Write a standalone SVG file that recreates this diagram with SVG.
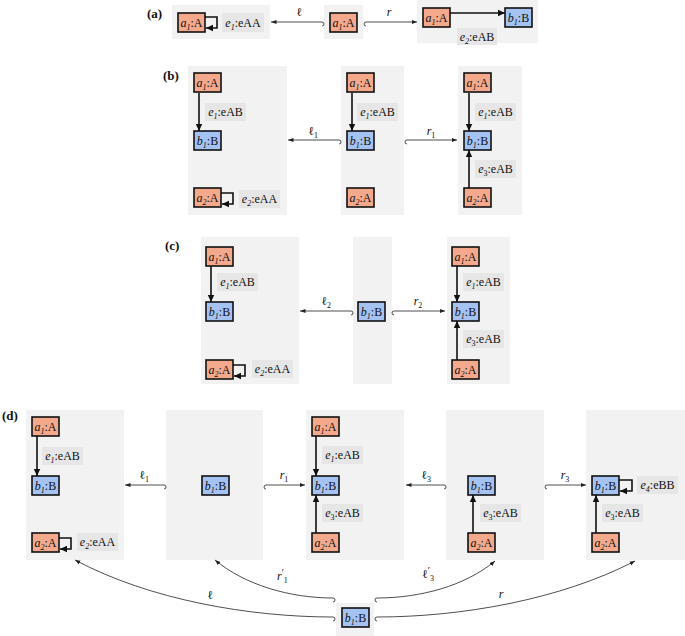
<svg xmlns="http://www.w3.org/2000/svg" width="685" height="636" viewBox="0 0 685 636" font-family="'Liberation Serif', 'Times New Roman', serif">
<defs>
<marker id="ah" markerUnits="userSpaceOnUse" markerWidth="8" markerHeight="8" viewBox="0 0 8 8" refX="7" refY="4" orient="auto"><path d="M0,0.8 L7,4 L0,7.2 Z" fill="#111"/></marker>
<marker id="mh" markerUnits="userSpaceOnUse" markerWidth="6" markerHeight="6" viewBox="0 0 6 6" refX="5.5" refY="3" orient="auto"><path d="M0,0.9 L5.5,3 L0,5.1 Z" fill="#222"/></marker>
</defs>
<style>
text{font-family:"Liberation Serif","Times New Roman",serif;font-size:12px;fill:#111}
.box{fill:#F2F2F2}
.lb{fill:#E6E6E6}
.na{fill:#F4A98C;stroke:#111;stroke-width:1.6}
.nb{fill:#A5C3F2;stroke:#111;stroke-width:1.6}
.e{fill:none;stroke:#111;stroke-width:1.6;marker-end:url(#ah)}
.m{fill:none;stroke:#222;stroke-width:0.8;marker-end:url(#mh)}
.i{font-style:italic}
.s{font-size:8px}
.p{font-size:10px}
.t{text-anchor:middle}
.h{font-weight:bold;font-size:13px}
</style>

<g id="panels">
<text class="h" x="147" y="18">(a)</text>
<text class="h" x="163" y="80">(b)</text>
<text class="h" x="165" y="250">(c)</text>
<text class="h" x="2" y="420">(d)</text>
<rect class="box" x="172" y="5" width="98" height="34"/>
<rect class="box" x="324" y="5" width="39" height="34"/>
<rect class="box" x="417" y="0" width="121" height="43"/>
<rect class="box" x="188" y="66" width="99" height="149"/>
<rect class="box" x="341" y="66" width="63" height="149"/>
<rect class="box" x="458" y="66" width="64" height="149"/>
<rect class="box" x="201" y="237" width="98" height="147"/>
<rect class="box" x="353" y="237" width="39" height="147"/>
<rect class="box" x="447" y="237" width="63" height="147"/>
<rect class="box" x="26" y="410" width="98" height="150"/>
<rect class="box" x="166" y="410" width="97" height="150"/>
<rect class="box" x="306" y="410" width="98" height="150"/>
<rect class="box" x="446" y="410" width="98" height="150"/>
<rect class="box" x="586" y="410" width="99" height="150"/>
<rect class="box" x="336" y="603" width="38" height="33"/>
</g>

<g id="edge-labels">
<rect class="lb" x="222" y="13" width="42" height="19"/><text class="t" x="243" y="26.5"><tspan class="i">e</tspan><tspan class="i s" dy="3">1</tspan><tspan dy="-3">:eAA</tspan></text>
<rect class="lb" x="457" y="28" width="40" height="17"/><text class="t" x="477" y="40.5"><tspan class="i">e</tspan><tspan class="i s" dy="3">2</tspan><tspan dy="-3">:eAB</tspan></text>

<rect class="lb" x="205" y="103" width="41" height="18"/><text class="t" x="225.5" y="116"><tspan class="i">e</tspan><tspan class="i s" dy="3">1</tspan><tspan dy="-3">:eAB</tspan></text>
<rect class="lb" x="239" y="190" width="41" height="18"/><text class="t" x="259.5" y="203"><tspan class="i">e</tspan><tspan class="i s" dy="3">2</tspan><tspan dy="-3">:eAA</tspan></text>
<rect class="lb" x="357" y="103" width="41" height="18"/><text class="t" x="377.5" y="116"><tspan class="i">e</tspan><tspan class="i s" dy="3">1</tspan><tspan dy="-3">:eAB</tspan></text>
<rect class="lb" x="475" y="103" width="41" height="18"/><text class="t" x="495.5" y="116"><tspan class="i">e</tspan><tspan class="i s" dy="3">1</tspan><tspan dy="-3">:eAB</tspan></text>
<rect class="lb" x="475" y="160" width="41" height="18"/><text class="t" x="495.5" y="173"><tspan class="i">e</tspan><tspan class="s" dy="3">3</tspan><tspan dy="-3">:eAB</tspan></text>

<rect class="lb" x="217" y="273" width="41" height="18"/><text class="t" x="237.5" y="286"><tspan class="i">e</tspan><tspan class="i s" dy="3">1</tspan><tspan dy="-3">:eAB</tspan></text>
<rect class="lb" x="252" y="360" width="41" height="18"/><text class="t" x="272.5" y="373"><tspan class="i">e</tspan><tspan class="i s" dy="3">2</tspan><tspan dy="-3">:eAA</tspan></text>
<rect class="lb" x="463" y="273" width="41" height="18"/><text class="t" x="483.5" y="286"><tspan class="i">e</tspan><tspan class="i s" dy="3">1</tspan><tspan dy="-3">:eAB</tspan></text>
<rect class="lb" x="463" y="330" width="41" height="18"/><text class="t" x="483.5" y="343"><tspan class="i">e</tspan><tspan class="s" dy="3">3</tspan><tspan dy="-3">:eAB</tspan></text>

<rect class="lb" x="42" y="447" width="41" height="18"/><text class="t" x="62.5" y="460"><tspan class="i">e</tspan><tspan class="i s" dy="3">1</tspan><tspan dy="-3">:eAB</tspan></text>
<rect class="lb" x="77" y="533" width="41" height="18"/><text class="t" x="97.5" y="546"><tspan class="i">e</tspan><tspan class="i s" dy="3">2</tspan><tspan dy="-3">:eAA</tspan></text>
<rect class="lb" x="322" y="446" width="41" height="18"/><text class="t" x="342.5" y="459"><tspan class="i">e</tspan><tspan class="i s" dy="3">1</tspan><tspan dy="-3">:eAB</tspan></text>
<rect class="lb" x="322" y="504" width="41" height="18"/><text class="t" x="342.5" y="517"><tspan class="i">e</tspan><tspan class="s" dy="3">3</tspan><tspan dy="-3">:eAB</tspan></text>
<rect class="lb" x="480" y="504" width="41" height="18"/><text class="t" x="500.5" y="517"><tspan class="i">e</tspan><tspan class="s" dy="3">3</tspan><tspan dy="-3">:eAB</tspan></text>
<rect class="lb" x="602" y="504" width="41" height="18"/><text class="t" x="622.5" y="517"><tspan class="i">e</tspan><tspan class="s" dy="3">3</tspan><tspan dy="-3">:eAB</tspan></text>
<rect class="lb" x="637" y="476" width="41" height="18"/><text class="t" x="657.5" y="489"><tspan class="i">e</tspan><tspan class="i s" dy="3">4</tspan><tspan dy="-3">:eBB</tspan></text>
</g>

<g id="connectors">
<path class="e" d="M205,17 H217 V28 H206"/>
<path class="e" d="M450,13 H505"/>
<path class="e" d="M199,93 V131"/>
<path class="e" d="M221,193 H233 V204 H222"/>
<path class="e" d="M352,93 V131"/>
<path class="e" d="M469,93 V131"/>
<path class="e" d="M469,188 V150"/>
<path class="e" d="M211,266 V302"/>
<path class="e" d="M233,365 H245 V376 H234"/>
<path class="e" d="M457,266 V302"/>
<path class="e" d="M457,360 V321"/>
<path class="e" d="M37,436 V476"/>
<path class="e" d="M59,538 H71 V549 H60"/>
<path class="e" d="M316,436 V476"/>
<path class="e" d="M316,533 V495"/>
<path class="e" d="M473,533 V495"/>
<path class="e" d="M596,533 V495"/>
<path class="e" d="M619,480 H632 V491 H620"/>

<path class="m" d="M322,26 a2,2 0 0 0 0,-4 H271"/>
<path class="m" d="M366,26 a2,2 0 0 1 0,-4 H417"/>
<path class="m" d="M339,144 a2,2 0 0 0 0,-4 H288"/>
<path class="m" d="M407,144 a2,2 0 0 1 0,-4 H457"/>
<path class="m" d="M351,315 a2,2 0 0 0 0,-4 H300"/>
<path class="m" d="M394,315 a2,2 0 0 1 0,-4 H445"/>
<path class="m" d="M164,489 a2,2 0 0 0 0,-4 H125"/>
<path class="m" d="M266,489 a2,2 0 0 1 0,-4 H305"/>
<path class="m" d="M444,489 a2,2 0 0 0 0,-4 H406"/>
<path class="m" d="M547,489 a2,2 0 0 1 0,-4 H586"/>
<path class="m" d="M333,621 a2,2 0 0 0 0,-4 C250,617 150,600 75,560"/>
<path class="m" d="M333,602 a2,2 0 0 0 0,-4 C290,598 245,585 215,560"/>
<path class="m" d="M377,602 a2,2 0 0 1 0,-4 C420,598 465,586 495,561"/>
<path class="m" d="M377,621 a2,2 0 0 1 0,-4 C460,617 560,600 635,561"/>
</g>

<g id="morphism-labels">
<text class="t" x="299" y="16">ℓ</text>
<text class="t i" x="389" y="16">r</text>
<text class="t" x="313" y="135">ℓ<tspan class="s" dy="3">1</tspan></text>
<text class="t" x="431" y="135"><tspan class="i">r</tspan><tspan class="s" dy="3">1</tspan></text>
<text class="t" x="326" y="305">ℓ<tspan class="s" dy="3">2</tspan></text>
<text class="t" x="418" y="305"><tspan class="i">r</tspan><tspan class="s" dy="3">2</tspan></text>
<text class="t" x="144" y="479">ℓ<tspan class="s" dy="3">1</tspan></text>
<text class="t" x="284" y="479"><tspan class="i">r</tspan><tspan class="s" dy="3">1</tspan></text>
<text class="t" x="426" y="479">ℓ<tspan class="s" dy="3">3</tspan></text>
<text class="t" x="565" y="479"><tspan class="i">r</tspan><tspan class="s" dy="3">3</tspan></text>
<text class="t" x="210" y="599">ℓ</text>
<text x="277" y="580"><tspan class="i">r</tspan><tspan class="p" dy="-4">′</tspan><tspan class="s" dy="7">1</tspan></text>
<text x="422" y="578">ℓ<tspan class="p" dy="-4">′</tspan><tspan class="s" dy="7">3</tspan></text>
<text class="t i" x="501" y="598">r</text>
</g>

<g id="a-L-a1"><rect class="na" x="178" y="13" width="27" height="19"/><text class="t" x="191.5" y="26.5"><tspan class="i">a</tspan><tspan class="i s" dy="3">1</tspan><tspan dy="-3">:A</tspan></text></g>
<g id="a-K-a1"><rect class="na" x="330" y="13" width="27" height="19"/><text class="t" x="343.5" y="26.5"><tspan class="i">a</tspan><tspan class="i s" dy="3">1</tspan><tspan dy="-3">:A</tspan></text></g>
<g id="a-R-a1"><rect class="na" x="423" y="8" width="27" height="19"/><text class="t" x="436.5" y="21.5"><tspan class="i">a</tspan><tspan class="i s" dy="3">1</tspan><tspan dy="-3">:A</tspan></text></g>
<g id="a-R-b1"><rect class="nb" x="505" y="8" width="27" height="19"/><text class="t" x="518.5" y="21.5"><tspan class="i">b</tspan><tspan class="i s" dy="3">1</tspan><tspan dy="-3">:B</tspan></text></g>

<g id="b-L-a1"><rect class="na" x="194" y="73" width="27" height="19"/><text class="t" x="207.5" y="86.5"><tspan class="i">a</tspan><tspan class="i s" dy="3">1</tspan><tspan dy="-3">:A</tspan></text></g>
<g id="b-L-b1"><rect class="nb" x="194" y="131" width="27" height="19"/><text class="t" x="207.5" y="144.5"><tspan class="i">b</tspan><tspan class="i s" dy="3">1</tspan><tspan dy="-3">:B</tspan></text></g>
<g id="b-L-a2"><rect class="na" x="194" y="188" width="27" height="19"/><text class="t" x="207.5" y="201.5"><tspan class="i">a</tspan><tspan class="i s" dy="3">2</tspan><tspan dy="-3">:A</tspan></text></g>
<g id="b-K-a1"><rect class="na" x="347" y="73" width="27" height="19"/><text class="t" x="360.5" y="86.5"><tspan class="i">a</tspan><tspan class="i s" dy="3">1</tspan><tspan dy="-3">:A</tspan></text></g>
<g id="b-K-b1"><rect class="nb" x="347" y="131" width="27" height="19"/><text class="t" x="360.5" y="144.5"><tspan class="i">b</tspan><tspan class="i s" dy="3">1</tspan><tspan dy="-3">:B</tspan></text></g>
<g id="b-K-a2"><rect class="na" x="347" y="188" width="27" height="19"/><text class="t" x="360.5" y="201.5"><tspan class="i">a</tspan><tspan class="i s" dy="3">2</tspan><tspan dy="-3">:A</tspan></text></g>
<g id="b-R-a1"><rect class="na" x="464" y="73" width="27" height="19"/><text class="t" x="477.5" y="86.5"><tspan class="i">a</tspan><tspan class="i s" dy="3">1</tspan><tspan dy="-3">:A</tspan></text></g>
<g id="b-R-b1"><rect class="nb" x="464" y="131" width="27" height="19"/><text class="t" x="477.5" y="144.5"><tspan class="i">b</tspan><tspan class="i s" dy="3">1</tspan><tspan dy="-3">:B</tspan></text></g>
<g id="b-R-a2"><rect class="na" x="464" y="188" width="27" height="19"/><text class="t" x="477.5" y="201.5"><tspan class="i">a</tspan><tspan class="i s" dy="3">2</tspan><tspan dy="-3">:A</tspan></text></g>

<g id="c-L-a1"><rect class="na" x="206" y="247" width="27" height="19"/><text class="t" x="219.5" y="260.5"><tspan class="i">a</tspan><tspan class="i s" dy="3">1</tspan><tspan dy="-3">:A</tspan></text></g>
<g id="c-L-b1"><rect class="nb" x="206" y="302" width="27" height="19"/><text class="t" x="219.5" y="315.5"><tspan class="i">b</tspan><tspan class="i s" dy="3">1</tspan><tspan dy="-3">:B</tspan></text></g>
<g id="c-L-a2"><rect class="na" x="206" y="360" width="27" height="19"/><text class="t" x="219.5" y="373.5"><tspan class="i">a</tspan><tspan class="i s" dy="3">2</tspan><tspan dy="-3">:A</tspan></text></g>
<g id="c-K-b1"><rect class="nb" x="358" y="302" width="27" height="19"/><text class="t" x="371.5" y="315.5"><tspan class="i">b</tspan><tspan class="i s" dy="3">1</tspan><tspan dy="-3">:B</tspan></text></g>
<g id="c-R-a1"><rect class="na" x="452" y="247" width="27" height="19"/><text class="t" x="465.5" y="260.5"><tspan class="i">a</tspan><tspan class="i s" dy="3">1</tspan><tspan dy="-3">:A</tspan></text></g>
<g id="c-R-b1"><rect class="nb" x="452" y="302" width="27" height="19"/><text class="t" x="465.5" y="315.5"><tspan class="i">b</tspan><tspan class="i s" dy="3">1</tspan><tspan dy="-3">:B</tspan></text></g>
<g id="c-R-a2"><rect class="na" x="452" y="360" width="27" height="19"/><text class="t" x="465.5" y="373.5"><tspan class="i">a</tspan><tspan class="i s" dy="3">2</tspan><tspan dy="-3">:A</tspan></text></g>

<g id="d-1-a1"><rect class="na" x="32" y="417" width="27" height="19"/><text class="t" x="45.5" y="430.5"><tspan class="i">a</tspan><tspan class="i s" dy="3">1</tspan><tspan dy="-3">:A</tspan></text></g>
<g id="d-1-b1"><rect class="nb" x="32" y="476" width="27" height="19"/><text class="t" x="45.5" y="489.5"><tspan class="i">b</tspan><tspan class="i s" dy="3">1</tspan><tspan dy="-3">:B</tspan></text></g>
<g id="d-1-a2"><rect class="na" x="32" y="533" width="27" height="19"/><text class="t" x="45.5" y="546.5"><tspan class="i">a</tspan><tspan class="i s" dy="3">2</tspan><tspan dy="-3">:A</tspan></text></g>
<g id="d-2-b1"><rect class="nb" x="202" y="476" width="27" height="19"/><text class="t" x="215.5" y="489.5"><tspan class="i">b</tspan><tspan class="i s" dy="3">1</tspan><tspan dy="-3">:B</tspan></text></g>
<g id="d-3-a1"><rect class="na" x="312" y="417" width="27" height="19"/><text class="t" x="325.5" y="430.5"><tspan class="i">a</tspan><tspan class="i s" dy="3">1</tspan><tspan dy="-3">:A</tspan></text></g>
<g id="d-3-b1"><rect class="nb" x="312" y="476" width="27" height="19"/><text class="t" x="325.5" y="489.5"><tspan class="i">b</tspan><tspan class="i s" dy="3">1</tspan><tspan dy="-3">:B</tspan></text></g>
<g id="d-3-a2"><rect class="na" x="312" y="533" width="27" height="19"/><text class="t" x="325.5" y="546.5"><tspan class="i">a</tspan><tspan class="i s" dy="3">2</tspan><tspan dy="-3">:A</tspan></text></g>
<g id="d-4-b1"><rect class="nb" x="468" y="476" width="27" height="19"/><text class="t" x="481.5" y="489.5"><tspan class="i">b</tspan><tspan class="i s" dy="3">1</tspan><tspan dy="-3">:B</tspan></text></g>
<g id="d-4-a2"><rect class="na" x="468" y="533" width="27" height="19"/><text class="t" x="481.5" y="546.5"><tspan class="i">a</tspan><tspan class="i s" dy="3">2</tspan><tspan dy="-3">:A</tspan></text></g>
<g id="d-5-b1"><rect class="nb" x="592" y="476" width="27" height="19"/><text class="t" x="605.5" y="489.5"><tspan class="i">b</tspan><tspan class="i s" dy="3">1</tspan><tspan dy="-3">:B</tspan></text></g>
<g id="d-5-a2"><rect class="na" x="592" y="533" width="27" height="19"/><text class="t" x="605.5" y="546.5"><tspan class="i">a</tspan><tspan class="i s" dy="3">2</tspan><tspan dy="-3">:A</tspan></text></g>
<g id="d-bottom-b1"><rect class="nb" x="342" y="608" width="27" height="19"/><text class="t" x="355.5" y="621.5"><tspan class="i">b</tspan><tspan class="i s" dy="3">1</tspan><tspan dy="-3">:B</tspan></text></g>
</svg>
